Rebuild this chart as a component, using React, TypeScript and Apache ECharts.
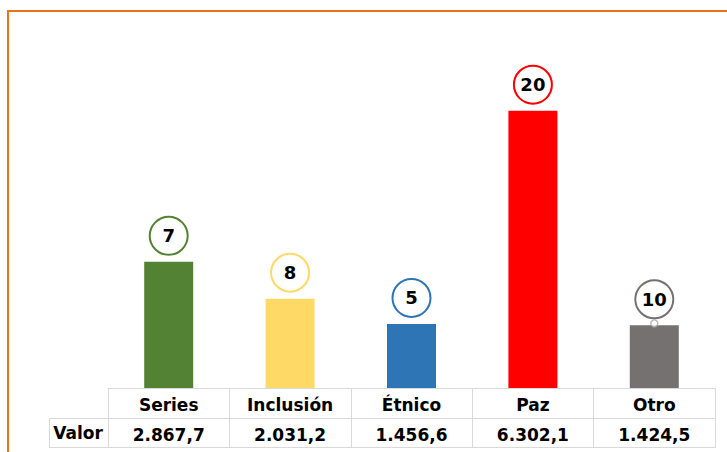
import React, { useEffect, useRef } from "react";
import * as echarts from "echarts";

const categories = ["Series", "Inclusión", "Étnico", "Paz", "Otro"];
const values = [2867.7, 2031.2, 1456.6, 6302.1, 1424.5];
const counts = [7, 8, 5, 20, 10];
const valueLabels = ["2.867,7", "2.031,2", "1.456,6", "6.302,1", "1.424,5"];
const rowTitle = "Valor";
const colors = ["#548235", "#FFD966", "#2E75B6", "#FF0000", "#767171"];

const FONT = "DejaVu Sans";
const GRID = "#D9D9D9";

export default function App() {
  const ref = useRef<HTMLDivElement>(null);
  useEffect(() => {
    if (!ref.current) return;
    const chart = echarts.init(ref.current, null, { renderer: "svg" });
    const option: any = {
      animation: false,
      backgroundColor: "#ffffff",
      grid: { left: 108, right: 12, top: 80, bottom: 64 },
      xAxis: [
        {
          type: "category",
          data: categories,
          position: "bottom",
          axisLine: { show: true, lineStyle: { color: GRID, width: 1 } },
          axisTick: { show: true, interval: 0, length: 60, lineStyle: { color: GRID } },
          axisLabel: {
            interval: 0,
            margin: 8,
            color: "#000",
            fontFamily: FONT,
            fontWeight: "bold",
            fontSize: 17,
          },
        },
        {
          type: "category",
          data: valueLabels,
          position: "bottom",
          offset: 30,
          axisLine: { show: true, lineStyle: { color: GRID, width: 1 } },
          axisTick: { show: false },
          axisLabel: {
            interval: 0,
            margin: 8,
            color: "#000",
            fontFamily: FONT,
            fontWeight: "bold",
            fontSize: 17,
          },
        },
      ],
      yAxis: { type: "value", min: 0, max: 7000, show: false, splitLine: { show: false } },
      series: [
        {
          type: "bar",
          barWidth: 49,
          data: values.map((v, i) => ({
            value: v,
            itemStyle: { color: colors[i] },
            label: { borderColor: colors[i] },
          })),
          label: {
            show: true,
            position: "top",
            distance: 8,
            formatter: (p: any) => String(counts[p.dataIndex]),
            color: "#000",
            fontFamily: FONT,
            fontWeight: "bold",
            fontSize: 18,
            width: 36,
            height: 36,
            lineHeight: 36,
            borderWidth: 2,
            borderRadius: 20,
            backgroundColor: "#fff",
          },
        },
        {
          type: "scatter",
          data: values.map((v, i) => (i === 4 ? v : null)),
          symbol: "circle",
          symbolSize: 7,
          symbolOffset: [0, -2],
          itemStyle: { color: "#fff", borderColor: "#A6A6A6", borderWidth: 1.5 },
          z: 5,
        },
      ],
      graphic: [
        {
          type: "rect",
          shape: { x: 8, y: 11, width: 900, height: 600 },
          style: { fill: "none", stroke: "#E8731A", lineWidth: 2 },
          silent: true,
        },
        {
          type: "line",
          shape: { x1: 49.5, y1: 418.5, x2: 108, y2: 418.5 },
          style: { stroke: GRID, lineWidth: 1 },
        },
        {
          type: "line",
          shape: { x1: 49.5, y1: 447.5, x2: 715, y2: 447.5 },
          style: { stroke: GRID, lineWidth: 1 },
        },
        {
          type: "line",
          shape: { x1: 49.5, y1: 418.5, x2: 49.5, y2: 448 },
          style: { stroke: GRID, lineWidth: 1 },
        },
        {
          type: "text",
          x: 78,
          y: 433,
          style: {
            text: rowTitle,
            fill: "#000",
            font: `bold 17px "${FONT}"`,
            textAlign: "center",
            textVerticalAlign: "middle",
          },
        },
      ],
    };
    chart.setOption(option);
    return () => chart.dispose();
  }, []);
  return (
    <div
      ref={ref}
      style={{ position: "absolute", left: 0, top: 0, width: 727, height: 452 }}
    />
  );
}
